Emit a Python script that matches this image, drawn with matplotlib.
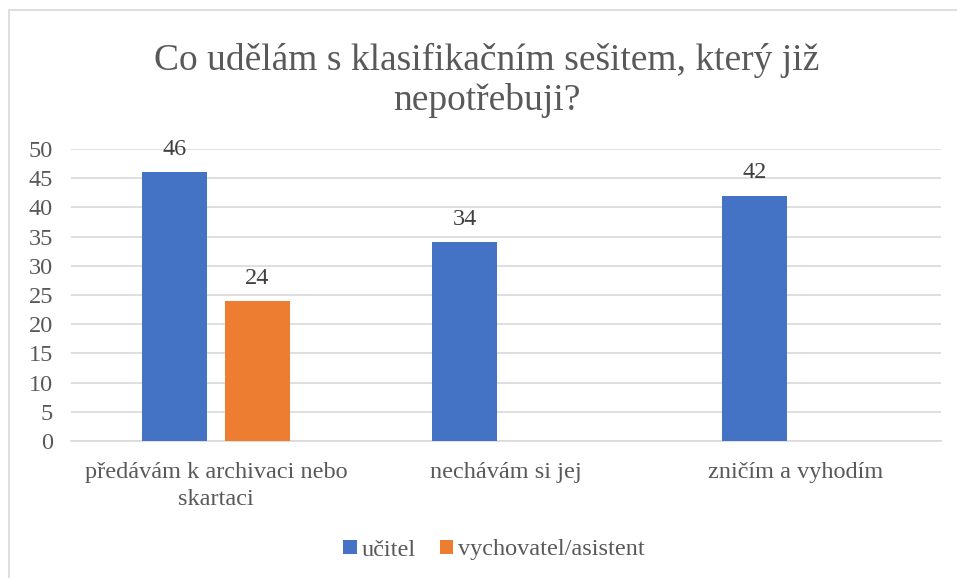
import matplotlib.pyplot as plt
from matplotlib.patches import Rectangle
import numpy as np

plt.rcParams['font.family'] = ['Liberation Serif', 'DejaVu Serif']

categories = ['předávám k archivaci nebo\nskartaci', 'nechávám si jej', 'zničím a vyhodím']
ucitel = [46, 34, 42]
vychovatel = [24, None, None]
series_names = ['učitel', 'vychovatel/asistent']
title = 'Co udělám s klasifikačním sešitem, který již\nnepotřebuji?'

blue = '#4472c4'
orange = '#ed7d31'
text_col = '#595959'

fig = plt.figure(figsize=(9.57, 5.78), dpi=100)
ax = fig.add_axes([71 / 957, (578 - 441) / 578, 870 / 957, 292 / 578])

# chart frame
fig.patches.append(Rectangle((9 / 957, -0.1), 1.2, (578 - 10) / 578 + 0.1,
                             transform=fig.transFigure, fill=False,
                             edgecolor='#d9d9d9', linewidth=1.2))

x = np.arange(len(categories))
w = 0.224
off = 0.142

b1 = ax.bar(x - off, ucitel, w, color=blue, label=series_names[0], zorder=3)
for xi, v in zip(x - off, ucitel):
    ax.text(xi, v + 2.1, str(v), ha='center', va='bottom', fontsize=17.5, color='#404040')

vx = [xi for xi, v in zip(x + off, vychovatel) if v is not None]
vv = [v for v in vychovatel if v is not None]
b2 = ax.bar(vx, vv, w, color=orange, label=series_names[1], zorder=3)
for xi, v in zip(vx, vv):
    ax.text(xi, v + 2.1, str(v), ha='center', va='bottom', fontsize=17.5, color='#404040')

ax.set_xlim(-0.5, 2.5)
ax.set_ylim(0, 50)
ax.set_yticks(range(0, 51, 5))
ax.yaxis.grid(True, color='#d9d9d9', linewidth=1.2, zorder=0)
ax.set_axisbelow(True)
for s in ['top', 'right', 'left']:
    ax.spines[s].set_visible(False)
ax.spines['bottom'].set_color('#d9d9d9')
ax.spines['bottom'].set_linewidth(1.2)
ax.tick_params(axis='both', length=0, labelsize=17.5, labelcolor=text_col)
ax.tick_params(axis='y', pad=13)
ax.tick_params(axis='x', pad=15)
ax.set_xticks(x)
ax.set_xticklabels(categories, linespacing=1.4)

fig.text(487 / 957, 1 - 80 / 578, title, ha='center', va='center', fontsize=27,
         color=text_col, linespacing=1.18)

fig.legend(handles=[b1, b2], loc='center', bbox_to_anchor=(494 / 957, 1 - 550 / 578),
           ncol=2, frameon=False, fontsize=17.5, labelcolor=text_col,
           handlelength=0.55, handleheight=0.55, handletextpad=0.2, columnspacing=1.0)

fig.savefig('out.png', dpi=100)
